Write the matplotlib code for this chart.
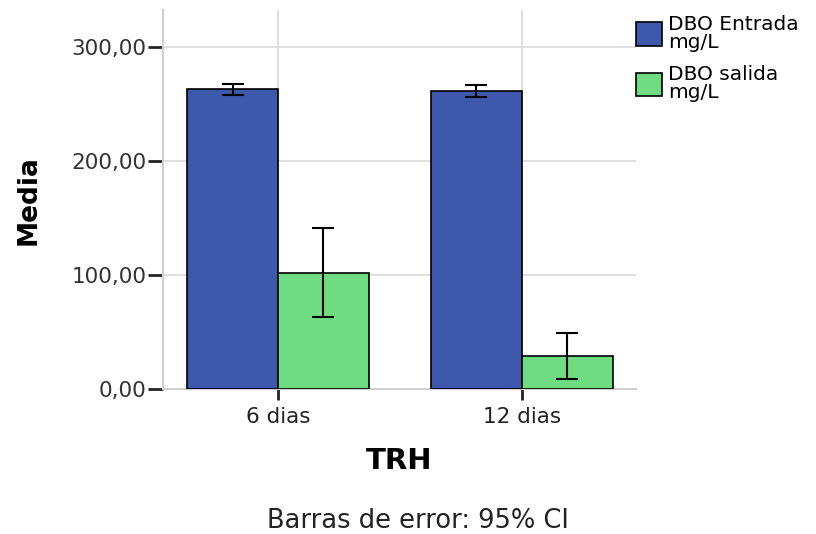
import numpy as np
import matplotlib.pyplot as plt

# data
groups = ['6 dias', '12 dias']
series = ['DBO Entrada\nmg/L', 'DBO salida\nmg/L']
means = [[263.0, 261.0], [101.8, 29.0]]
ci_low = [[258.0, 256.0], [63.0, 9.0]]
ci_high = [[267.0, 266.5], [141.0, 49.5]]
colors = ['#3E58AC', '#70DC82']

plt.rcParams['font.family'] = ['DejaVu Sans']

fig = plt.figure(figsize=(8.16, 5.34), dpi=100)
ax = fig.add_axes([0.2, 0.2715, 0.579, 0.7095])

x = np.arange(len(groups))
width = 0.373
for i in range(len(series)):
    m = np.array(means[i])
    err = [m - np.array(ci_low[i]), np.array(ci_high[i]) - m]
    pos = x + (i - 0.5) * width
    ax.bar(pos, m, width, color=colors[i], edgecolor='black', linewidth=1.2,
           label=series[i], zorder=3)
    ax.errorbar(pos, m, yerr=err, fmt='none', ecolor='black', elinewidth=1.5,
                capsize=8, capthick=1.5, zorder=4)

ax.set_xlim(-0.471, 1.467)
ax.set_ylim(0, 332)
ax.set_xticks(x)
ax.set_xticklabels(groups, fontsize=15.5, color='#222222')
ax.set_yticks([0, 100, 200, 300])
ax.set_yticklabels(['0,00', '100,00', '200,00', '300,00'], fontsize=15.5, color='#333333')

ax.grid(True, color='#d9d9d9', linewidth=1.2, zorder=0)
ax.set_axisbelow(True)
for s in ['top', 'right']:
    ax.spines[s].set_visible(False)
ax.spines['left'].set_color('#d0d0d0')
ax.spines['bottom'].set_color('#d0d0d0')
ax.spines['left'].set_linewidth(1.5)
ax.spines['bottom'].set_linewidth(1.5)
ax.tick_params(axis='y', length=11, width=2, color='#222222', pad=1)
ax.tick_params(axis='x', length=8, width=2, color='#222222', pad=5)

ax.set_ylabel('Media', fontsize=19, fontweight='bold')
ax.yaxis.set_label_coords(-0.258, 0.5)
ax.set_xlabel('TRH', fontsize=21, fontweight='bold')
ax.xaxis.set_label_coords(0.5, -0.152)

leg = ax.legend(loc='upper left', bbox_to_anchor=(1.0, 0.988), frameon=False,
                fontsize=14.5, handlelength=1.3, handleheight=1.4, handletextpad=0.3,
                labelspacing=0.65, borderaxespad=0, borderpad=0)
for t in leg.get_texts():
    t.set_linespacing(0.95)

fig.text(0.512, 0.012, 'Barras de error: 95% CI', fontsize=18.5, ha='center',
         va='baseline', color='#222222')

fig.savefig('out.png', dpi=100)
